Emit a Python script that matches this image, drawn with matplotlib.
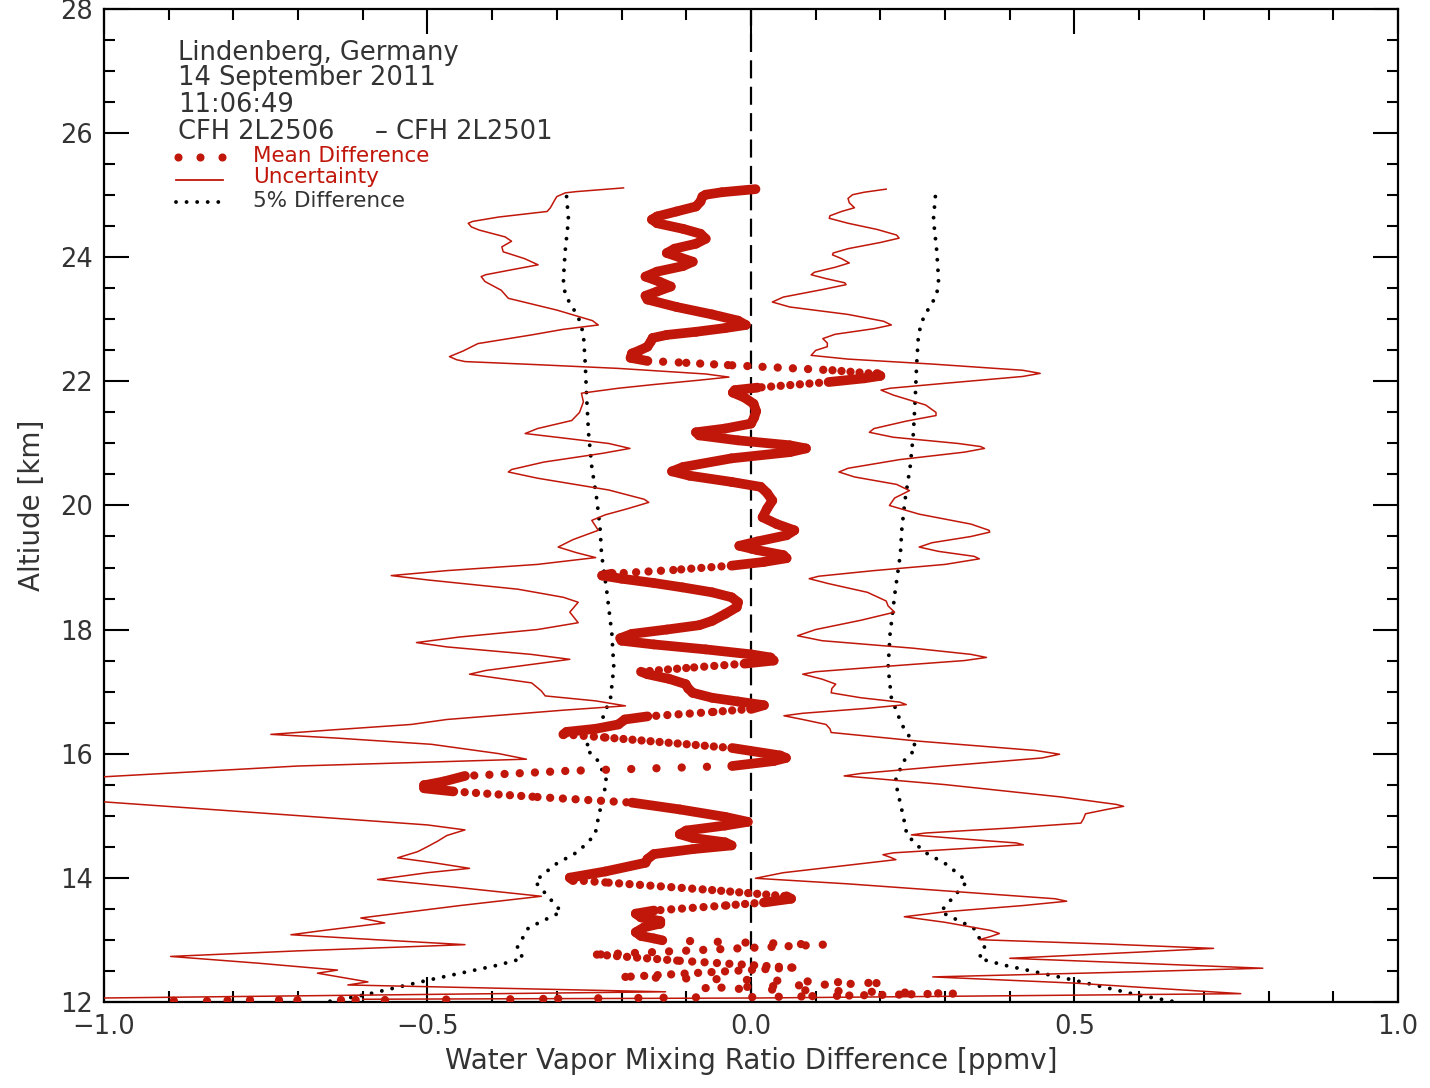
import numpy as np
import matplotlib
matplotlib.use("Agg")
import matplotlib.pyplot as plt

plt.rcParams["font.family"] = ["DejaVu Sans"]
plt.rcParams["lines.scale_dashes"] = False

# ---------------- data ----------------
# Mean difference CFH 2L2506 - CFH 2L2501 [ppmv] versus altitude [km]
mean_alt = [25.10, 25.05, 25.01, 24.98, 24.90, 24.82, 24.74, 24.66, 24.61, 24.55,
            24.46, 24.38, 24.30, 24.22, 24.14, 24.07, 24.00, 23.93, 23.86, 23.77,
            23.69, 23.61, 23.53, 23.45, 23.38, 23.32, 23.20, 23.08, 22.98, 22.91,
            22.86, 22.80, 22.75, 22.70, 22.64, 22.56, 22.50, 22.45, 22.38, 22.33,
            22.30, 22.26, 22.18, 22.12, 22.09, 22.05, 21.99, 21.90, 21.86, 21.82,
            21.74, 21.64, 21.52, 21.42, 21.32, 21.24, 21.18, 21.13, 21.05, 20.97,
            20.92, 20.86, 20.76, 20.62, 20.55, 20.48, 20.38, 20.30, 20.20, 20.08,
            19.95, 19.81, 19.70, 19.60, 19.52, 19.42, 19.35, 19.28, 19.20, 19.15,
            19.09, 19.03, 18.96, 18.90, 18.87, 18.82, 18.75, 18.68, 18.60, 18.52,
            18.44, 18.36, 18.25, 18.14, 18.07, 18.00, 17.93, 17.86, 17.82, 17.76,
            17.68, 17.60, 17.55, 17.50, 17.45, 17.38, 17.32, 17.28, 17.20, 17.12,
            17.05, 16.98, 16.90, 16.84, 16.78, 16.72, 16.67, 16.60, 16.55, 16.47,
            16.40, 16.35, 16.31, 16.26, 16.09, 15.97, 15.93, 15.88, 15.80, 15.72,
            15.64, 15.55, 15.49, 15.44, 15.39, 15.30, 15.21, 15.10, 14.98, 14.90,
            14.84, 14.76, 14.70, 14.64, 14.57, 14.52, 14.46, 14.38, 14.30, 14.24,
            14.10, 14.00, 13.96, 13.92, 13.80, 13.70, 13.66, 13.60, 13.55, 13.47,
            13.42, 13.36, 13.30, 13.26, 13.20, 13.12, 13.06, 13.02, 12.99, 12.92,
            12.76, 12.66, 12.55, 12.40, 12.30, 12.22, 12.13, 12.125, 12.12, 12.115,
            12.11, 12.105, 12.10, 12.095, 12.09, 12.085, 12.08, 12.075, 12.07, 12.065,
            12.06, 12.055, 12.05, 12.045, 12.04, 12.035, 12.03, 12.03, 12.025, 12.025,
            12.02, 12.02, 12.02, 12.015, 12.015, 12.01]
mean_diff = [0.007, -0.045, -0.070, -0.075, -0.078, -0.085, -0.115, -0.145, -0.153, -0.145,
             -0.105, -0.078, -0.070, -0.085, -0.118, -0.130, -0.110, -0.090, -0.105, -0.145,
             -0.163, -0.142, -0.124, -0.145, -0.163, -0.160, -0.115, -0.060, -0.020, -0.008,
             -0.040, -0.085, -0.130, -0.152, -0.155, -0.160, -0.172, -0.184, -0.186, -0.160,
             -0.100, -0.029, 0.126, 0.195, 0.200, 0.175, 0.120, 0.010, -0.025, -0.028,
             -0.010, 0.004, 0.008, 0.005, 0.000, -0.040, -0.085, -0.080, -0.020, 0.060,
             0.085, 0.060, -0.030, -0.105, -0.122, -0.095, -0.030, 0.015, 0.025, 0.033,
             0.025, 0.018, 0.040, 0.067, 0.055, 0.010, -0.018, 0.010, 0.050, 0.055,
             0.020, -0.030, -0.120, -0.215, -0.230, -0.200, -0.150, -0.106, -0.060, -0.030,
             -0.020, -0.022, -0.040, -0.060, -0.080, -0.130, -0.184, -0.202, -0.200, -0.150,
             -0.070, 0.000, 0.030, 0.035, -0.010, -0.100, -0.170, -0.160, -0.125, -0.101,
             -0.097, -0.090, -0.060, -0.020, 0.020, 0.000, -0.060, -0.160, -0.195, -0.205,
             -0.240, -0.285, -0.290, -0.225, -0.029, 0.045, 0.054, 0.035, -0.029, -0.287,
             -0.442, -0.475, -0.505, -0.505, -0.460, -0.330, -0.184, -0.110, -0.040, -0.005,
             -0.040, -0.100, -0.110, -0.090, -0.040, -0.030, -0.090, -0.150, -0.160, -0.163,
             -0.225, -0.280, -0.275, -0.220, -0.060, 0.055, 0.062, 0.020, -0.040, -0.150,
             -0.178, -0.170, -0.140, -0.140, -0.165, -0.178, -0.170, -0.150, -0.137, 0.111,
             -0.238, -0.110, 0.064, -0.194, 0.194, -0.070, 0.312, 0.273, 0.248, 0.229,
             0.203, 0.175, 0.152, 0.133, 0.095, 0.078, 0.043, 0.002, -0.085, -0.135,
             -0.174, -0.236, -0.298, -0.321, -0.372, -0.471, -0.566, -0.611, -0.634, -0.701,
             -0.729, -0.774, -0.809, -0.840, -0.892, -0.938]

# Lower uncertainty bound [ppmv]
unc_lo_alt = [25.12, 25.06, 25.04, 24.98, 24.93, 24.80, 24.74, 24.65, 24.58, 24.55,
              24.49, 24.44, 24.33, 24.26, 24.17, 24.09, 23.98, 23.88, 23.80, 23.72,
              23.69, 23.61, 23.47, 23.34, 23.15, 22.98, 22.91, 22.84, 22.75, 22.61,
              22.49, 22.40, 22.35, 22.32, 22.27, 22.21, 22.12, 22.07, 22.02, 21.95,
              21.89, 21.81, 21.67, 21.50, 21.37, 21.24, 21.16, 21.10, 21.00, 20.92,
              20.84, 20.70, 20.58, 20.54, 20.44, 20.25, 20.10, 20.05, 19.95, 19.85,
              19.76, 19.60, 19.45, 19.33, 19.24, 19.16, 19.05, 18.95, 18.87, 18.80,
              18.65, 18.52, 18.44, 18.28, 18.11, 18.00, 17.88, 17.79, 17.72, 17.60,
              17.52, 17.45, 17.34, 17.28, 17.20, 17.14, 17.01, 16.93, 16.85, 16.77,
              16.70, 16.55, 16.47, 16.38, 16.31, 16.25, 16.15, 16.00, 15.91, 15.80,
              15.62, 15.45, 15.23, 15.00, 14.85, 14.77, 14.68, 14.59, 14.50, 14.42,
              14.32, 14.24, 14.15, 14.08, 13.97, 13.85, 13.70, 13.55, 13.35, 13.27,
              13.15, 13.08, 13.00, 12.92, 12.82, 12.73, 12.62, 12.51, 12.46, 12.32,
              12.27, 12.16, 12.06, 12.04]
unc_lo = [-0.197, -0.270, -0.287, -0.300, -0.303, -0.310, -0.315, -0.390, -0.430, -0.437,
          -0.432, -0.420, -0.380, -0.370, -0.385, -0.383, -0.350, -0.329, -0.370, -0.410,
          -0.417, -0.411, -0.386, -0.375, -0.300, -0.245, -0.236, -0.290, -0.339, -0.422,
          -0.445, -0.466, -0.455, -0.442, -0.330, -0.205, -0.070, -0.034, -0.080, -0.150,
          -0.205, -0.262, -0.259, -0.265, -0.277, -0.330, -0.349, -0.300, -0.220, -0.187,
          -0.230, -0.320, -0.370, -0.375, -0.330, -0.220, -0.165, -0.158, -0.190, -0.225,
          -0.246, -0.236, -0.275, -0.298, -0.270, -0.240, -0.330, -0.470, -0.556, -0.500,
          -0.360, -0.290, -0.267, -0.280, -0.267, -0.330, -0.450, -0.517, -0.470, -0.340,
          -0.280, -0.330, -0.410, -0.435, -0.380, -0.339, -0.324, -0.318, -0.240, -0.194,
          -0.290, -0.470, -0.525, -0.650, -0.742, -0.640, -0.494, -0.390, -0.347, -0.700,
          -1.011, -1.250, -1.011, -0.700, -0.500, -0.442, -0.470, -0.484, -0.500, -0.515,
          -0.546, -0.490, -0.435, -0.500, -0.577, -0.460, -0.324, -0.450, -0.603, -0.566,
          -0.660, -0.711, -0.580, -0.442, -0.700, -0.897, -0.760, -0.639, -0.670, -0.592,
          -0.623, -0.132, -1.000, -1.100]

# Upper uncertainty bound [ppmv]
unc_hi_alt = [25.10, 25.05, 25.01, 24.95, 24.88, 24.80, 24.74, 24.67, 24.63, 24.55,
              24.45, 24.36, 24.31, 24.24, 24.14, 24.07, 24.04, 23.98, 23.91, 23.84,
              23.76, 23.72, 23.66, 23.59, 23.56, 23.48, 23.36, 23.28, 23.20, 23.08,
              22.97, 22.91, 22.85, 22.76, 22.69, 22.62, 22.56, 22.50, 22.42, 22.36,
              22.28, 22.18, 22.13, 22.08, 21.97, 21.89, 21.86, 21.78, 21.62, 21.50,
              21.45, 21.36, 21.24, 21.18, 21.10, 21.00, 20.95, 20.92, 20.86, 20.74,
              20.60, 20.54, 20.46, 20.34, 20.24, 20.12, 20.00, 19.86, 19.70, 19.60,
              19.57, 19.50, 19.40, 19.33, 19.26, 19.18, 19.14, 19.05, 18.95, 18.86,
              18.82, 18.74, 18.60, 18.46, 18.38, 18.28, 18.15, 18.00, 17.90, 17.82,
              17.70, 17.60, 17.55, 17.50, 17.40, 17.32, 17.28, 17.20, 17.12, 17.05,
              16.98, 16.90, 16.83, 16.79, 16.73, 16.65, 16.61, 16.55, 16.47, 16.40,
              16.34, 16.20, 16.05, 15.99, 15.93, 15.80, 15.68, 15.64, 15.50, 15.30,
              15.18, 15.15, 15.10, 15.03, 14.95, 14.88, 14.80, 14.72, 14.69, 14.63,
              14.56, 14.53, 14.47, 14.40, 14.37, 14.33, 14.29, 14.20, 14.08, 13.99,
              13.90, 13.75, 13.66, 13.62, 13.55, 13.45, 13.37, 13.28, 13.15, 13.10,
              13.05, 13.00, 12.93, 12.86, 12.80, 12.70, 12.62, 12.54, 12.47, 12.40,
              12.30, 12.13, 12.06, 12.04]
unc_hi = [0.209, 0.175, 0.157, 0.150, 0.152, 0.160, 0.140, 0.122, 0.121, 0.150,
          0.195, 0.225, 0.229, 0.200, 0.150, 0.127, 0.126, 0.140, 0.152, 0.130,
          0.098, 0.093, 0.115, 0.145, 0.147, 0.110, 0.050, 0.033, 0.060, 0.150,
          0.205, 0.217, 0.190, 0.130, 0.111, 0.118, 0.118, 0.100, 0.093, 0.150,
          0.280, 0.420, 0.447, 0.420, 0.300, 0.215, 0.201, 0.220, 0.270, 0.286,
          0.286, 0.240, 0.190, 0.183, 0.220, 0.320, 0.355, 0.361, 0.330, 0.230,
          0.150, 0.136, 0.160, 0.225, 0.245, 0.222, 0.214, 0.260, 0.340, 0.368,
          0.369, 0.340, 0.280, 0.260, 0.290, 0.345, 0.353, 0.300, 0.190, 0.105,
          0.090, 0.120, 0.180, 0.209, 0.212, 0.222, 0.170, 0.100, 0.072, 0.110,
          0.250, 0.340, 0.364, 0.330, 0.200, 0.100, 0.080, 0.110, 0.131, 0.125,
          0.124, 0.170, 0.230, 0.240, 0.180, 0.080, 0.051, 0.080, 0.116, 0.122,
          0.124, 0.260, 0.440, 0.477, 0.450, 0.300, 0.170, 0.144, 0.300, 0.480,
          0.565, 0.576, 0.550, 0.517, 0.514, 0.510, 0.400, 0.270, 0.248, 0.320,
          0.410, 0.421, 0.330, 0.220, 0.204, 0.215, 0.224, 0.150, 0.050, 0.007,
          0.150, 0.350, 0.470, 0.488, 0.420, 0.300, 0.237, 0.300, 0.370, 0.384,
          0.370, 0.353, 0.550, 0.715, 0.600, 0.400, 0.600, 0.791, 0.550, 0.281,
          0.500, 0.757, 0.012, -0.600]

# 5% of the mixing ratio [ppmv]
pct5_alt = [24.98, 24.61, 24.12, 23.64, 23.39, 23.04, 22.77, 22.26, 21.75, 21.16,
            20.62, 20.08, 19.60, 19.22, 18.63, 17.93, 17.39, 16.90, 16.47, 16.09,
            15.88, 15.56, 14.96, 14.69, 14.42, 14.21, 13.94, 13.45, 13.19, 12.86,
            12.70, 12.59, 12.35, 12.11, 11.95]
pct5 = [0.285, 0.282, 0.287, 0.290, 0.287, 0.267, 0.259, 0.256, 0.254, 0.251,
        0.246, 0.238, 0.233, 0.231, 0.223, 0.215, 0.212, 0.217, 0.233, 0.256,
        0.236, 0.223, 0.236, 0.241, 0.267, 0.303, 0.334, 0.293, 0.344, 0.362,
        0.352, 0.391, 0.498, 0.597, 0.681]

x_ticks = [-1.0, -0.5, 0.0, 0.5, 1.0]
y_ticks = [12, 14, 16, 18, 20, 22, 24, 26, 28]

header = ["Lindenberg, Germany", "14 September 2011", "11:06:49",
          "CFH 2L2506     \u2013 CFH 2L2501"]
legend_labels = ["Mean Difference", "Uncertainty", "5% Difference"]

# ---------------- styling ----------------
RED = "#c0170a"
TXT = "#333333"

fig = plt.figure(figsize=(14.3, 10.88), dpi=100)
ax = fig.add_axes([0.0727, 0.0793, 0.9049, 0.9122])
ax.set_xlim(-1.0, 1.0)
ax.set_ylim(12, 28)

for s in ax.spines.values():
    s.set_linewidth(1.6)
    s.set_color("black")

ax.set_xticks(x_ticks)
ax.set_xticklabels([f"{v:.1f}".replace("-", "\u2212") for v in x_ticks])
ax.set_yticks(y_ticks)
ax.set_yticklabels([str(v) for v in y_ticks])
ax.xaxis.set_minor_locator(matplotlib.ticker.MultipleLocator(0.1))
ax.yaxis.set_minor_locator(matplotlib.ticker.MultipleLocator(0.5))
ax.tick_params(which="both", direction="in", top=True, right=True,
               width=1.5, color="black", labelcolor=TXT, labelsize=18.5)
ax.tick_params(which="major", length=18)
ax.tick_params(which="minor", length=8)
ax.tick_params(axis="x", which="major", pad=9)
ax.tick_params(axis="y", which="major", pad=8)

ax.set_xlabel("Water Vapor Mixing Ratio Difference [ppmv]", fontsize=20,
              color=TXT, labelpad=5)
ax.set_ylabel("Altiude [km]", fontsize=20, color=TXT, labelpad=10)

# zero line
ax.axvline(0.0, color="black", lw=1.6, dashes=(13, 6), zorder=2)

# 5% difference envelope
for sign in (-1, 1):
    ax.plot(sign * np.asarray(pct5), pct5_alt, color="black", lw=2.8,
            dashes=(0.01, 7.6), dash_capstyle="round", zorder=3)

# uncertainty bounds
ax.plot(unc_lo, unc_lo_alt, color=RED, lw=1.1, zorder=3)
ax.plot(unc_hi, unc_hi_alt, color=RED, lw=1.1, zorder=3)

# mean difference: dense soundings merge into a thick trace where the profile
# changes slowly and separate into dots where it sweeps sideways quickly
pts = ax.transData.transform(np.column_stack([mean_diff, mean_alt]))
px_per_pt = fig.dpi / 72.0
sample_dy_px = 0.75
solid_lw = 7.0
dot_lw = 6.0
for i in range(len(pts) - 1):
    (x0, y0), (x1, y1) = pts[i], pts[i + 1]
    seg_len = np.hypot(x1 - x0, y1 - y0)
    n = max(abs(y1 - y0) / sample_dy_px, 1.0)
    spacing_px = seg_len / n
    xs = [mean_diff[i], mean_diff[i + 1]]
    ys = [mean_alt[i], mean_alt[i + 1]]
    if spacing_px < 1.0 * dot_lw * px_per_pt:
        ax.plot(xs, ys, color=RED, lw=solid_lw, solid_capstyle="round",
                solid_joinstyle="round", zorder=4)
    else:
        gap_px = seg_len + 1 if n <= 1.0 else spacing_px
        ax.plot(xs, ys, color=RED, lw=dot_lw, dashes=(0.01, gap_px / px_per_pt),
                dash_capstyle="round", zorder=4)

# header text
x_txt = 0.0572
for line, yb in zip(header, [0.9489, 0.9237, 0.8965, 0.8693]):
    ax.text(x_txt, yb, line, transform=ax.transAxes, fontsize=18.5,
            color=TXT, va="baseline", ha="left")

# key
ax.plot([0.0572, 0.0742, 0.0912], [0.8512] * 3, transform=ax.transAxes,
        ls="none", marker="o", ms=4.8, color=RED, mec=RED)
ax.plot([0.0556, 0.0920], [0.8283] * 2, transform=ax.transAxes, color=RED, lw=1.3)
ax.plot([0.0556, 0.0920], [0.8062] * 2, transform=ax.transAxes, color="black",
        lw=2.8, dashes=(0.01, 7.6), dash_capstyle="round")
for lab, yb, c in zip(legend_labels, [0.8462, 0.8251, 0.8010], [RED, RED, TXT]):
    ax.text(0.1151, yb, lab, transform=ax.transAxes, fontsize=15.5,
            color=c, va="baseline", ha="left")

fig.savefig("out.png", dpi=100, facecolor="white")
